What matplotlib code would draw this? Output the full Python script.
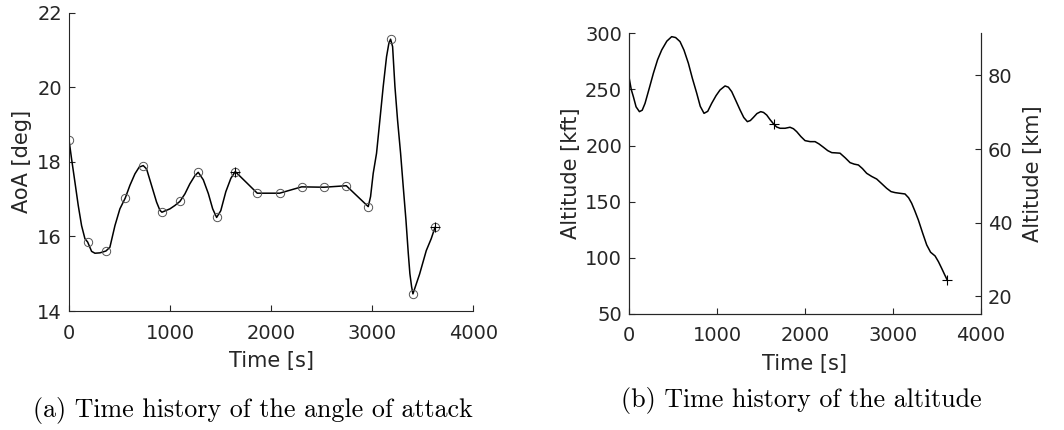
import matplotlib
matplotlib.use("Agg")
import matplotlib.pyplot as plt
import numpy as np

# collocation nodes of the angle of attack
aoa_node_t = [0, 185, 366, 557, 735, 920, 1098, 1279, 1461, 1645,
              1863, 2084, 2302, 2523, 2744, 2961, 3182, 3403, 3621]
aoa_node = [18.60, 15.85, 15.61, 17.03, 17.90, 16.65, 16.94, 17.72, 16.51, 17.74,
            17.16, 17.16, 17.33, 17.32, 17.36, 16.80, 21.29, 14.46, 16.24]

# angle of attack curve
aoa_t = [0, 26, 59, 92, 125, 158, 185, 224, 257, 307, 366, 405, 455, 504, 557,
         603, 653, 695, 735, 768, 817, 867, 900, 920, 999, 1048, 1098, 1147, 1196,
         1246, 1279, 1329, 1379, 1422, 1461, 1502, 1552, 1602, 1645, 1762, 1863,
         2084, 2302, 2523, 2744, 2961, 2984, 3010, 3043, 3076, 3109, 3142, 3165,
         3182, 3202, 3225, 3251, 3281, 3307, 3334, 3357, 3373, 3390, 3403, 3469,
         3535, 3584, 3621]
aoa = [18.60, 18.08, 17.46, 16.83, 16.29, 15.94, 15.85, 15.60, 15.55, 15.56, 15.61,
       15.71, 16.29, 16.74, 17.03, 17.37, 17.68, 17.86, 17.90, 17.81, 17.37, 16.92,
       16.70, 16.65, 16.74, 16.83, 16.94, 17.14, 17.41, 17.63, 17.72, 17.52, 17.15,
       16.74, 16.51, 16.69, 17.20, 17.56, 17.74, 17.43, 17.16, 17.16, 17.33, 17.32,
       17.36, 16.80, 17.07, 17.69, 18.23, 19.12, 20.02, 20.82, 21.18, 21.29, 21.09,
       20.02, 19.12, 18.23, 17.34, 16.44, 15.55, 15.00, 14.65, 14.46, 14.99, 15.62,
       15.94, 16.24]

# altitude curve [kft]
alt_t = [0, 25, 49, 80, 118, 150, 182, 230, 277, 325, 372, 430, 485, 530, 580,
         625, 675, 720, 770, 810, 853, 895, 940, 990, 1035, 1092, 1130, 1168,
         1215, 1263, 1305, 1346, 1380, 1414, 1455, 1498, 1530, 1566, 1605, 1645,
         1680, 1718, 1775, 1831, 1870, 1907, 1955, 2002, 2060, 2116, 2160, 2211,
         2260, 2306, 2350, 2400, 2460, 2514, 2560, 2609, 2655, 2703, 2760, 2817,
         2875, 2931, 2980, 3026, 3080, 3139, 3180, 3215, 3250, 3291, 3340, 3386,
         3430, 3481, 3520, 3556, 3590, 3621]
alt = [260.8, 250.0, 243.6, 234.5, 230.2, 231.5, 237.6, 251.0, 264.4, 276.5,
       285.2, 293.0, 297.0, 296.2, 292.6, 285.0, 273.3, 260.0, 246.6, 235.0,
       228.7, 230.5, 237.6, 244.5, 249.5, 253.1, 252.0, 248.0, 240.0, 231.7,
       225.0, 221.3, 222.3, 225.0, 228.5, 230.2, 229.5, 227.2, 223.0, 219.2,
       216.5, 215.4, 215.4, 216.3, 215.0, 212.4, 208.0, 204.4, 203.5, 203.5,
       201.5, 198.5, 195.5, 193.7, 193.5, 193.2, 189.0, 184.8, 183.5, 182.7,
       179.5, 175.3, 172.5, 170.2, 166.0, 161.9, 159.0, 158.1, 157.5, 156.9,
       153.5, 148.6, 142.0, 133.7, 122.0, 111.5, 105.0, 101.7, 96.5, 90.7,
       85.0, 80.0]
# phase end points
alt_end_t = [1645, 3621]
alt_end = [219.2, 80.0]
aoa_end_t = [1645, 3621]
aoa_end = [17.74, 16.24]

FT2KM = 0.3048
dark = "#262626"
plt.rcParams["font.family"] = ["DejaVu Sans"]
plt.rcParams["font.size"] = 14

fig = plt.figure(figsize=(10.64, 4.30), dpi=100)

def style(ax):
    ax.tick_params(direction="in", length=4, width=0.8, colors=dark, labelsize=14)
    ax.tick_params(axis="x", pad=9)
    ax.tick_params(axis="y", pad=5)
    for s in ax.spines.values():
        s.set_color(dark)
        s.set_linewidth(0.8)

# (a) angle of attack
ax1 = fig.add_axes([0.0648, 0.2767, 0.380, 0.6937])
ax1.plot(aoa_t, aoa, color="black", lw=1.1)
ax1.plot(aoa_node_t, aoa_node, "o", ms=6, mfc="none", mec="#555555", mew=0.7)
ax1.plot(aoa_end_t, aoa_end, "+", ms=7, color="black", mew=0.8)
ax1.set_xlim(0, 4000)
ax1.set_ylim(14, 22)
ax1.set_xticks([0, 1000, 2000, 3000, 4000])
ax1.set_yticks([14, 16, 18, 20, 22])
ax1.spines["top"].set_visible(False)
ax1.spines["right"].set_visible(False)
ax1.set_xlabel("Time [s]", color=dark, fontsize=15, labelpad=6)
ax1.set_ylabel("AoA [deg]", color=dark, fontsize=15, labelpad=4)
style(ax1)

# (b) altitude
ax2 = fig.add_axes([0.5912, 0.2698, 0.3305, 0.6528])
ax2.plot(alt_t, alt, color="black", lw=1.1)
ax2.plot(alt_end_t, alt_end, "+", ms=7, color="black", mew=0.8)
ax2.set_xlim(0, 4000)
ax2.set_ylim(50, 300)
ax2.set_xticks([0, 1000, 2000, 3000, 4000])
ax2.set_yticks([50, 100, 150, 200, 250, 300])
ax2.spines["top"].set_visible(False)
ax2.set_xlabel("Time [s]", color=dark, fontsize=15, labelpad=6)
ax2.set_ylabel("Altitude [kft]", color=dark, fontsize=15, labelpad=3)
style(ax2)

ax3 = ax2.twinx()
ax3.set_ylim(50 * FT2KM, 300 * FT2KM)
ax3.set_yticks([20, 40, 60, 80])
ax3.spines["top"].set_visible(False)
ax3.set_ylabel("Altitude [km]", color=dark, fontsize=15, labelpad=8)
style(ax3)

fig.text(0.238, 0.031, "(a) Time history of the angle of attack",
         family="cmr10", fontsize=18.7, ha="center", va="baseline")
fig.text(0.7535, 0.053, "(b) Time history of the altitude",
         family="cmr10", fontsize=18.7, ha="center", va="baseline")

fig.savefig("out.png", dpi=100)
